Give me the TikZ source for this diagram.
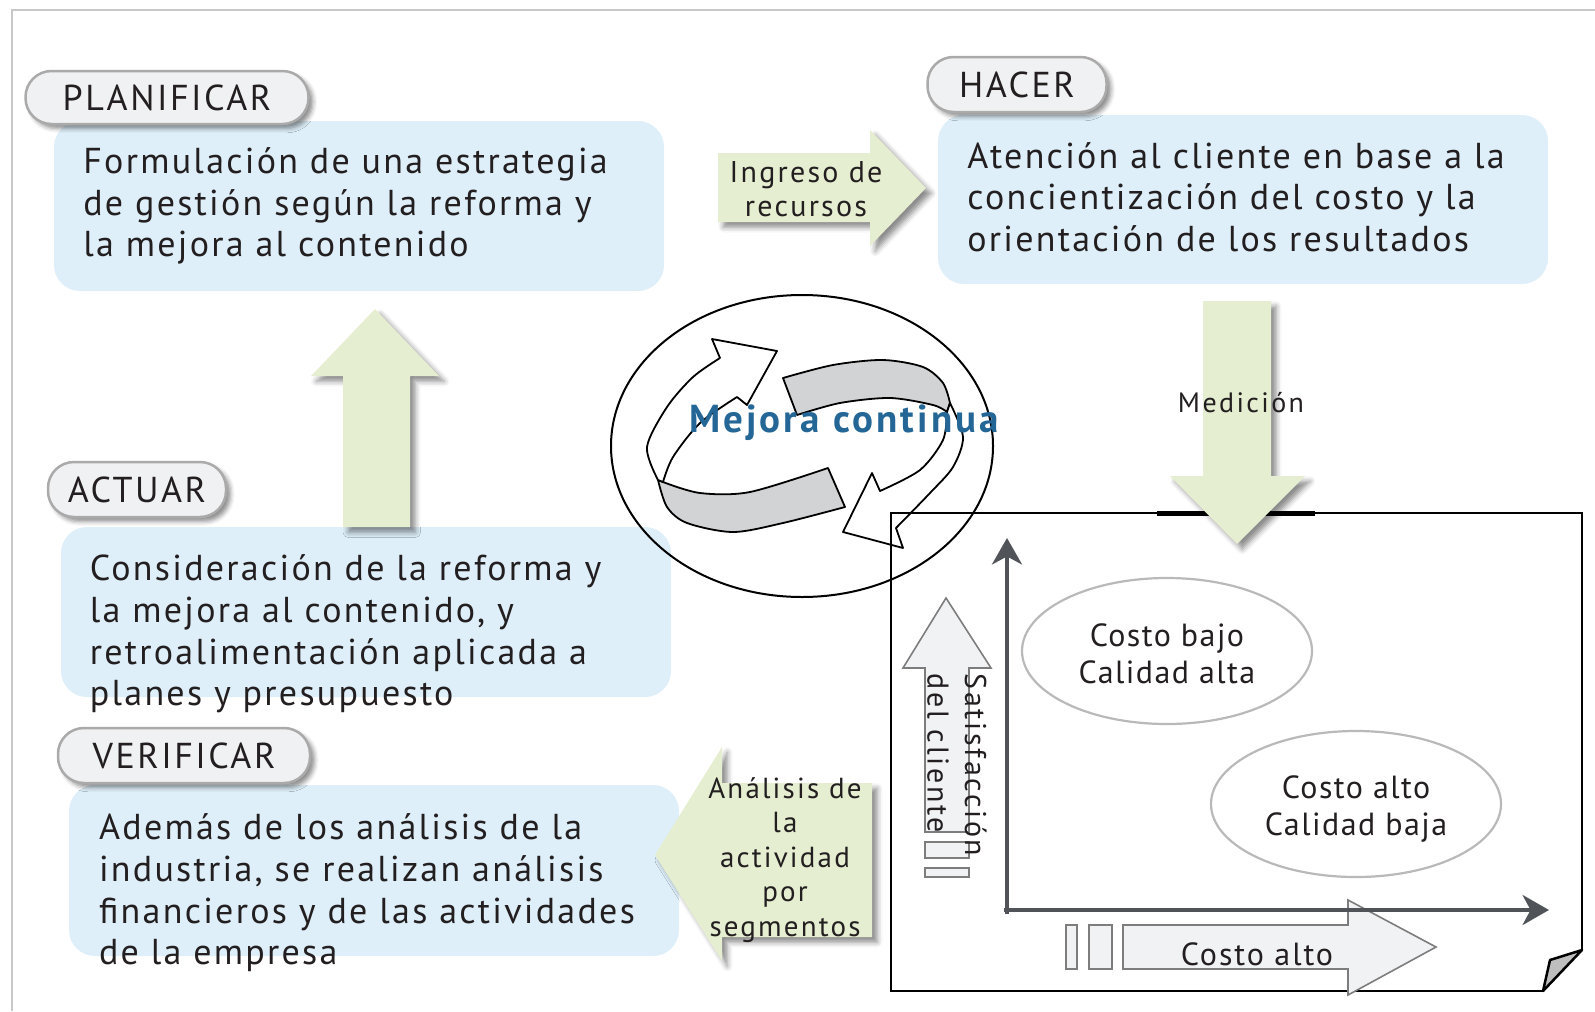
\documentclass[tikz,border=0pt]{standalone}
\usepackage{fontspec}
\setmainfont{PT Sans}
\usetikzlibrary{arrows.meta,shadows.blur,shapes.geometric}
\newdimen\px \px=0.02cm
\newcommand\fsz[2]{\fontsize{#1\px}{#2\px}\selectfont}
\newcommand\trk[1]{\addfontfeatures{LetterSpace=#1}}
\definecolor{bluefill}{RGB}{222,239,249}
\definecolor{greenfill}{RGB}{229,238,208}
\definecolor{pillfill}{RGB}{240,241,242}
\definecolor{pilldraw}{RGB}{170,170,170}
\definecolor{textcol}{RGB}{35,31,32}
\definecolor{mejoracol}{RGB}{36,103,150}
\definecolor{axiscol}{RGB}{80,84,89}
\definecolor{ellcol}{RGB}{185,185,185}
\definecolor{bandgray}{RGB}{210,211,213}
\definecolor{arrowgray}{RGB}{241,242,244}
\definecolor{arrowline}{RGB}{125,125,125}
\definecolor{framegray}{RGB}{200,200,200}
\definecolor{foldgray}{RGB}{190,190,190}
\begin{document}
\begin{tikzpicture}[x=0.02cm, y=-0.02cm,
  bluebox/.style={fill=bluefill, rounded corners=26\px, inner sep=0pt},
  pill/.style={draw=pilldraw, fill=pillfill, line width=2.5\px, rounded corners=26\px, inner sep=0pt,
    font=\fsz{36}{40}\trk{7}, text=textcol,
    blur shadow={shadow xshift=2.5pt, shadow yshift=-2.5pt, shadow blur radius=2.5pt, shadow opacity=45}},
  bodytext/.style={align=left, inner sep=0pt, anchor=west, font=\fsz{36}{41.7}\trk{6.3}, text=textcol},
  greenarrow/.style={fill=greenfill,
    blur shadow={shadow xshift=3pt, shadow yshift=-3pt, shadow blur radius=3pt, shadow opacity=45}},
  labeltext/.style={align=center, inner sep=0pt, text=textcol},
  cyclearrow/.style={draw=black, line width=1.8\px, line join=round},
  grayarrow/.style={draw=arrowline, fill=arrowgray, line width=1.6\px},
  axis/.style={draw=axiscol, line width=2.8pt, -{Stealth[length=15pt, width=17pt, inset=4.5pt]}},
  ellnode/.style={draw=ellcol, line width=2.2\px, ellipse, inner sep=0pt},
  elltext/.style={labeltext, font=\fsz{32}{37}\trk{4.5}},
]
\useasboundingbox (0,0) rectangle (1595,1011);
% frame
\draw[framegray, line width=2\px] (12,1011) -- (12,10) -- (1595,10);

% blue boxes
\node[bluebox, minimum width=610\px, minimum height=170\px] (planbox) at (359,206) {};
\node[bluebox, minimum width=610\px, minimum height=169\px] (hacerbox) at (1243,199.5) {};
\node[bluebox, minimum width=610\px, minimum height=170\px] (actbox) at (366,612) {};
\node[bluebox, minimum width=610\px, minimum height=171\px] (verbox) at (374,870.5) {};

% pills
\node[pill, minimum width=283\px, minimum height=53\px] (planpill) at (167,97.5) {PLANIFICAR};
\node[pill, minimum width=179\px, minimum height=55\px] (hacerpill) at (1017,84.5) {HACER};
\node[pill, minimum width=178\px, minimum height=55\px] (actpill) at (137,489.5) {ACTUAR};
\node[pill, minimum width=252\px, minimum height=55\px] (verpill) at (184,755.5) {VERIFICAR};

% body texts
\node[bodytext] (plantext) at (83,206) {Formulación de una estrategia\\de gestión según la reforma y\\la mejora al contenido};
\node[bodytext] (hacertext) at (967,197) {Atención al cliente en base a la\\concientización del costo y la\\orientación de los resultados};
\node[bodytext] (acttext) at (89.5,634) {Consideración de la reforma y\\la mejora al contenido, y\\retroalimentación aplicada a\\planes y presupuesto};
\node[bodytext] (vertext) at (98.7,893) {Además de los análisis de la\\industria, se realizan análisis\\financieros y de las actividades\\de la empresa};

% green block arrows
\path[greenarrow] (718,153) -- (870,153) -- (870,130) -- (926,188) -- (870,246) -- (870,222) -- (718,222) -- cycle;
\node[labeltext, font=\fsz{30}{34.6}\trk{7.5}] (ingtext) at (806,189) {Ingreso de\\recursos};

\path[greenarrow] (343,527) -- (343,376) -- (311,376) -- (375,309) -- (439,376) -- (410,376) -- (410,527) -- cycle;

\path[greenarrow] (872,783) -- (722,783) -- (722,747) -- (655,855) -- (722,961) -- (722,937) -- (872,937) -- cycle;
\node[labeltext, font=\fsz{29}{34.6}\trk{7.5}] (anatext) at (785,860) {Análisis de\\la\\actividad\\por\\segmentos};

% Mejora continua cycle
\draw[line width=2\px] (802,446) ellipse [x radius=191, y radius=151];
% arrow 2 (left, pointing up-right): back band then front face
\filldraw[cyclearrow, fill=bandgray] plot[smooth] coordinates {(663,482) (700,493) (750,492) (828,468)} -- (845,507)
  -- plot[smooth] coordinates {(845,507) (783,523) (733,532) (687,523) (667,507) (658,480)} -- cycle;
\filldraw[cyclearrow, fill=white] plot[smooth] coordinates {(663,482) (673,457) (700,423) (737,397)}
  -- (747,405) -- (777,351) -- (712,339) -- (720,358)
  -- plot[smooth] coordinates {(720,358) (693,377) (667,407) (647,447) (658,480)} -- cycle;
% arrow 1 (right, pointing down-left)
\filldraw[cyclearrow, fill=bandgray] plot[smooth] coordinates {(783,378) (833,365) (883,360) (923,367) (943,383) (950,403)} -- (947,412)
  -- plot[smooth] coordinates {(947,412) (933,405) (890,398) (840,403) (797,415)} -- cycle;
\filldraw[cyclearrow, fill=white] plot[smooth] coordinates {(947,412) (943,440) (920,470) (880,491)}
  -- (872,473) -- (843,532) -- (903,548) -- (896,528)
  -- plot[smooth] coordinates {(896,528) (930,493) (953,467) (963,437) (950,403)} -- cycle;

% chart box
\draw[line width=2.5\px, line join=miter] (1543,991) -- (891,991) -- (891,513) -- (1582,513) -- (1582,950);
\filldraw[fill=foldgray, line width=2.5\px, line join=round] (1543,991) -- (1550,960) -- (1582,950) -- cycle;
\draw[line width=5\px] (1157,513) -- (1315,513);

% Medicion arrow
\path[greenarrow] (1203,301) -- (1271,301) -- (1271,476) -- (1305,476) -- (1237,544) -- (1170,476) -- (1203,476) -- cycle;
\node[labeltext, font=\fsz{28}{30}\trk{8.5}] (medtext) at (1241,403) {Medición};

% chart contents
\path[grayarrow] (946,598) -- (991,668) -- (969,668) -- (969,832) -- (925,832) -- (925,668) -- (903,668) -- cycle;
\path[grayarrow] (925,842) rectangle (969,858);
\path[grayarrow] (925,868) rectangle (969,877);
\node[labeltext, align=left, rotate=-90, font=\fsz{30}{37.6}\trk{9}] (sattext) at (957,765) {Satisfacción\\del cliente};

\path[grayarrow] (1436,947) -- (1348,995) -- (1348,969) -- (1123,969) -- (1123,925) -- (1348,925) -- (1348,900) -- cycle;
\path[grayarrow] (1089,925) rectangle (1112,969);
\path[grayarrow] (1066,925) rectangle (1077,969);
\node[labeltext, font=\fsz{32}{37}\trk{6}] (cadtext) at (1257,954) {Costo alto};

\coordinate (ytip) at (1007,538);
\coordinate (xtip) at (1549,910);
\draw[axis] (1007,914) -- (ytip);
\draw[axis] (1004,910) -- (xtip);

\node[ellnode, minimum width=290\px, minimum height=146\px] (ell1) at (1167,651) {};
\node[elltext] (ell1text) at (1167,653.5) {Costo bajo\\Calidad alta};
\node[ellnode, minimum width=290\px, minimum height=146\px] (ell2) at (1356,804) {};
\node[elltext] (ell2text) at (1356,809) {Costo alto\\Calidad baja};

% Mejora continua label
\node[inner sep=0pt, font=\fsz{39}{40}\bfseries\trk{8}, text=mejoracol] (mejora) at (844,423) {Mejora continua};
\end{tikzpicture}
\end{document}
